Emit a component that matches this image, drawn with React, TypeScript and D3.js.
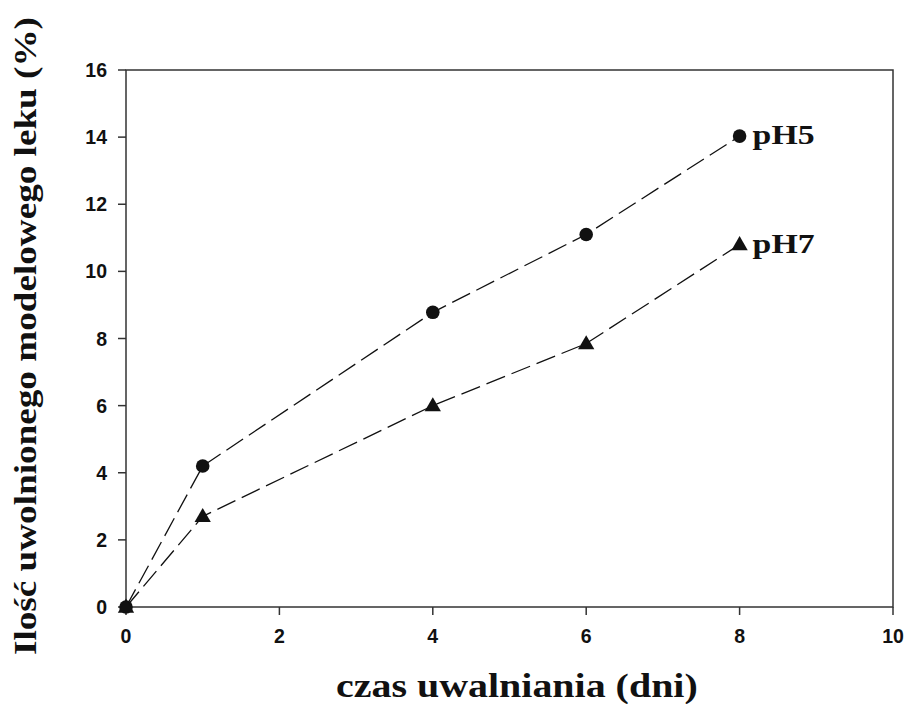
import React, { useLayoutEffect, useRef, useState } from "react";
import * as d3 from "d3";

const days = [0, 1, 4, 6, 8];
const ph5 = [0, 4.2, 8.78, 11.1, 14.03];
const ph7 = [0, 2.7, 6.0, 7.85, 10.8];
const xTicks = [0, 2, 4, 6, 8, 10];
const yTicks = [0, 2, 4, 6, 8, 10, 12, 14, 16];
const seriesLabels = ["pH5", "pH7"];

const serif = "'Times New Roman', 'Liberation Serif', serif";

function StretchText(props: { x: number; y: number; len: number; size: number; rotate?: boolean; children: string }) {
  const ref = useRef<SVGTextElement>(null);
  const [sx, setSx] = useState(1);
  useLayoutEffect(() => {
    if (ref.current) {
      const w = ref.current.getComputedTextLength();
      if (w > 0) setSx(props.len / w);
    }
  }, [props.len, props.children]);
  const tr = props.rotate
    ? `translate(${props.x},${props.y}) rotate(-90) scale(${sx},1)`
    : `translate(${props.x},${props.y}) scale(${sx},1)`;
  return (
    <text ref={ref} transform={tr} fontFamily={serif} fontWeight="bold" fontSize={props.size} fill="#111">
      {props.children}
    </text>
  );
}

export default function App() {
  const W = 906, H = 704;
  const left = 126, right = 893, top = 70, bottom = 607;
  const x = d3.scaleLinear().domain([0, 10]).range([left, right]);
  const y = d3.scaleLinear().domain([0, 16]).range([bottom, top]);
  const line = d3.line<number>().x((_, i) => x(days[i])).y((d) => y(d));
  const tri = d3.symbol().type(d3.symbolTriangle).size(115)();
  const circ = d3.symbol().type(d3.symbolCircle).size(145)();
  const tickFont = "Arial, 'Liberation Sans', sans-serif";
  return (
    <svg width={W} height={H} style={{ position: "absolute", left: 0, top: 0 }}>
      <rect width={W} height={H} fill="#fff" />
      <rect x={left} y={top} width={right - left} height={bottom - top} fill="none" stroke="#333" strokeWidth={1.5} />
      {xTicks.map((t) => (
        <g key={"x" + t}>
          <line x1={x(t)} x2={x(t)} y1={bottom} y2={bottom + 8} stroke="#333" strokeWidth={1.5} />
          <text x={x(t)} y={bottom + 36} textAnchor="middle" fontFamily={tickFont} fontWeight="bold" fontSize={19.5} fill="#111">{t}</text>
        </g>
      ))}
      {yTicks.map((t) => (
        <g key={"y" + t}>
          <line x1={left - 8} x2={left} y1={y(t)} y2={y(t)} stroke="#333" strokeWidth={1.5} />
          <text x={left - 19} y={y(t) + 7} textAnchor="end" fontFamily={tickFont} fontWeight="bold" fontSize={19.5} fill="#111">{t}</text>
        </g>
      ))}
      {[ph5, ph7].map((s, k) => (
        <g key={"s" + k}>
          <path d={line(s) || ""} fill="none" stroke="#111" strokeWidth={1.3} strokeDasharray="20,7" />
          {s.map((v, i) => (
            <path key={i} d={k === 0 ? circ || "" : tri || ""} transform={`translate(${x(days[i])},${y(v) + (k === 1 ? 1 : 0)})`} fill="#111" />
          ))}
          <StretchText x={x(8) + 13} y={y(s[s.length - 1]) + 8} len={62} size={27}>{seriesLabels[k]}</StretchText>
        </g>
      ))}
      <StretchText x={336} y={697} len={362} size={33}>czas uwalniania (dni)</StretchText>
      <StretchText x={36} y={655} len={638} size={31} rotate>Ilość uwolnionego modelowego leku (%)</StretchText>
    </svg>
  );
}
